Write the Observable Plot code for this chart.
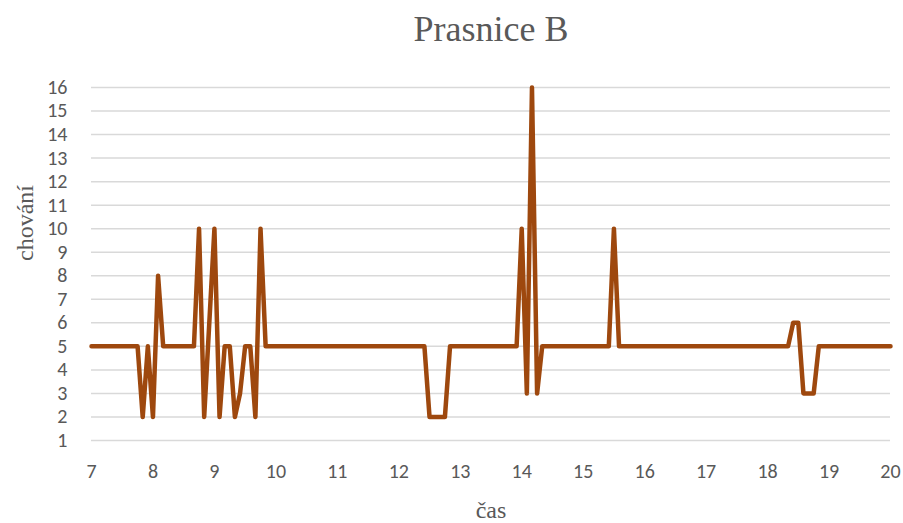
<!DOCTYPE html>
<html>
<head>
<meta charset="utf-8">
<script src="https://cdn.jsdelivr.net/npm/d3@7"></script>
<script src="https://cdn.jsdelivr.net/npm/@observablehq/plot@0.6"></script>
<style>
  html, body { margin: 0; padding: 0; background: #fff; }
</style>
</head>
<body>
<div id="chart"></div>
<script>
const times = ["7:00","7:45","7:50","7:55","8:00","8:05","8:10","8:40","8:45","8:50","9:00","9:05","9:10","9:15","9:20","9:25","9:30","9:35","9:40","9:45","9:50","12:25","12:30","12:45","12:50","13:55","14:00","14:05","14:10","14:15","14:20","15:25","15:30","15:35","18:20","18:25","18:30","18:35","18:45","18:50","20:00"];
const values = [5,5,2,5,2,8,5,5,10,2,10,2,5,5,2,3,5,5,2,10,5,5,2,2,5,5,10,3,16,3,5,5,10,5,5,6,6,3,3,5,5];
const xTicks = [7,8,9,10,11,12,13,14,15,16,17,18,19,20];
const yTicks = [1,2,3,4,5,6,7,8,9,10,11,12,13,14,15,16];
const title = "Prasnice B";
const xTitle = "čas";
const yTitle = "chování";

const data = times.map((t, i) => {
  const [h, m] = t.split(":").map(Number);
  return {x: h + m / 60, y: values[i]};
});

const tickFont = "Carlito, Lato, sans-serif";
const serif = "'Liberation Serif', 'Times New Roman', serif";

const chart = Plot.plot({
  width: 903,
  height: 523,
  marginTop: 87,
  marginBottom: 83,
  marginLeft: 91,
  marginRight: 13,
  style: {background: "#fff"},
  x: {domain: [7, 20]},
  y: {domain: [1, 16]},
  marks: [
    Plot.ruleY(yTicks, {stroke: "#d9d9d9", strokeWidth: 1.5}),
    Plot.axisY({ticks: yTicks, tickSize: 0, tickPadding: 24, label: null, fill: "#595959", fontSize: 20, fontFamily: tickFont}),
    Plot.axisX({ticks: xTicks, tickSize: 0, tickPadding: 23, label: null, fill: "#595959", fontSize: 20, fontFamily: tickFont}),
    Plot.line(data, {x: "x", y: "y", stroke: "#9E480E", strokeWidth: 4.5, strokeLinejoin: "round", strokeLinecap: "round"}),
    Plot.text([title], {frameAnchor: "top", lineAnchor: "bottom", dy: -47, fontSize: 36, fontFamily: serif, fill: "#595959"}),
    Plot.text([xTitle], {frameAnchor: "bottom", lineAnchor: "bottom", dy: 77, fontSize: 24, fontFamily: serif, fill: "#595959"}),
    Plot.text([yTitle], {frameAnchor: "left", lineAnchor: "bottom", dx: -59, dy: -3, rotate: -90, fontSize: 24, fontFamily: serif, fill: "#595959"})
  ]
});
const titleSet = new Set([title, xTitle, yTitle]);
d3.select(chart).selectAll("text").each(function() {
  if (titleSet.has(this.textContent)) this.style.fontFamily = serif;
});
document.getElementById("chart").append(chart);
</script>
</body>
</html>
